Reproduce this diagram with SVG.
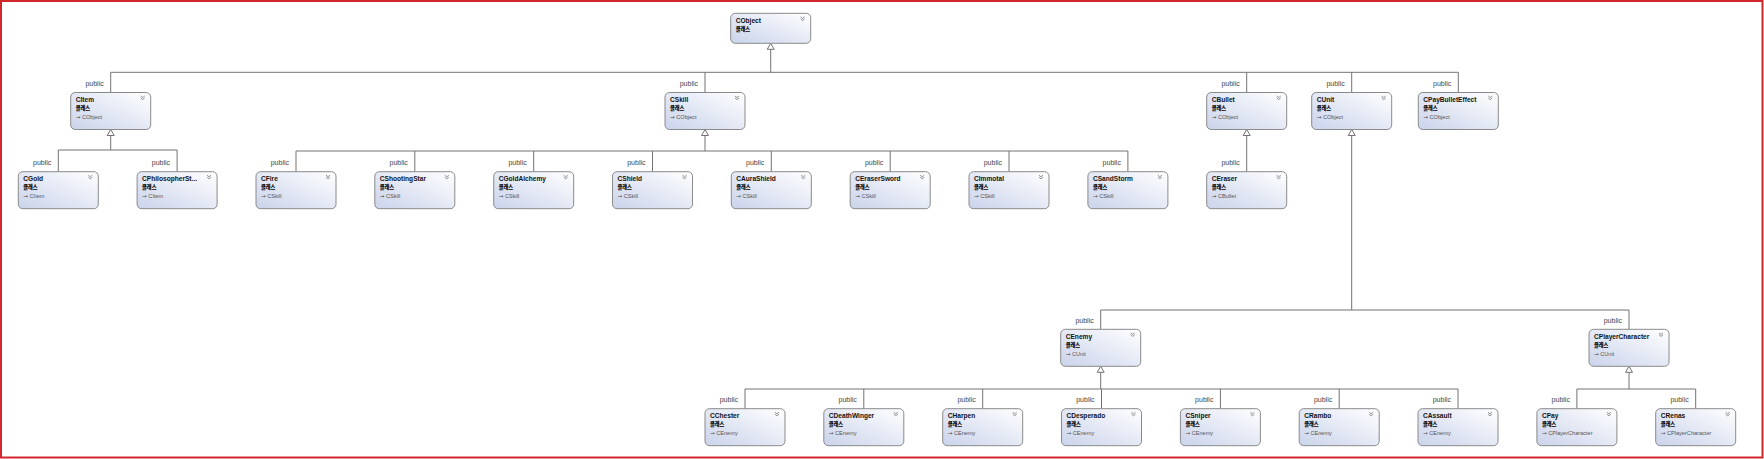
<svg xmlns="http://www.w3.org/2000/svg" xmlns:xlink="http://www.w3.org/1999/xlink" width="1764" height="459" viewBox="0 0 1764 459">
<style>
.bx{fill:url(#g);stroke:#8a8a8a;stroke-width:1}
.t{font-family:"Liberation Sans",Arial,sans-serif;font-size:6.6px;font-weight:bold;fill:#111}
.k{font-family:"Noto Sans CJK KR",sans-serif;font-size:5.2px;font-weight:900;fill:#000}
.b{font-family:"Liberation Sans",Arial,sans-serif;font-size:5.6px;fill:#555}
.a{font-family:"DejaVu Sans",sans-serif;font-size:5.6px}
.l{font-family:"Liberation Sans",Arial,sans-serif;font-size:7px;fill:#444;text-anchor:end}
.c{stroke:#727272;stroke-width:1;fill:none}
.tri{fill:#fff;stroke:#727272;stroke-width:1}
.ch{stroke:#777;stroke-width:0.8;fill:none}
</style>
<defs>
<linearGradient id="g" x1="1" y1="0" x2="0" y2="1">
<stop offset="0" stop-color="#ffffff"/>
<stop offset="1" stop-color="#cad3eb"/>
</linearGradient>
<path id="chev" class="ch" d="M-2,0 L0,1.6 L2,0 M-2,2 L0,3.6 L2,2"/>
<rect id="box" class="bx" x="0" y="0" width="80" height="37" rx="4.5"/>
<polygon id="tri" class="tri" points="0,0 -3.5,6 3.5,6"/>
</defs>
<rect x="0" y="0" width="1764" height="459" fill="#fff"/>
<rect x="1" y="1" width="1761.5" height="456.5" fill="none" stroke="#d0262d" stroke-width="2"/>

<g id="connectors">
<line class="c" x1="770.7" y1="49.3" x2="770.7" y2="72.3"/>
<line class="c" x1="110.7" y1="72.3" x2="1458.3" y2="72.3"/>
<line class="c" x1="110.7" y1="72.3" x2="110.7" y2="92.5"/>
<line class="c" x1="705" y1="72.3" x2="705" y2="92.5"/>
<line class="c" x1="1246.7" y1="72.3" x2="1246.7" y2="92.5"/>
<line class="c" x1="1351.7" y1="72.3" x2="1351.7" y2="92.5"/>
<line class="c" x1="1458.3" y1="72.3" x2="1458.3" y2="92.5"/>
<line class="c" x1="110.7" y1="135.5" x2="110.7" y2="150"/>
<line class="c" x1="58.3" y1="150" x2="177.1" y2="150"/>
<line class="c" x1="58.3" y1="150" x2="58.3" y2="171.7"/>
<line class="c" x1="177.1" y1="150" x2="177.1" y2="171.7"/>
<line class="c" x1="705" y1="135.5" x2="705" y2="151"/>
<line class="c" x1="296" y1="151" x2="1127.9" y2="151"/>
<line class="c" x1="296" y1="151" x2="296" y2="171.7"/>
<line class="c" x1="414.8" y1="151" x2="414.8" y2="171.7"/>
<line class="c" x1="533.7" y1="151" x2="533.7" y2="171.7"/>
<line class="c" x1="652.5" y1="151" x2="652.5" y2="171.7"/>
<line class="c" x1="771.3" y1="151" x2="771.3" y2="171.7"/>
<line class="c" x1="890.2" y1="151" x2="890.2" y2="171.7"/>
<line class="c" x1="1009" y1="151" x2="1009" y2="171.7"/>
<line class="c" x1="1127.9" y1="151" x2="1127.9" y2="171.7"/>
<line class="c" x1="1246.7" y1="135.5" x2="1246.7" y2="171.7"/>
<line class="c" x1="1351.7" y1="135.5" x2="1351.7" y2="310"/>
<line class="c" x1="1100.7" y1="310" x2="1629" y2="310"/>
<line class="c" x1="1100.7" y1="310" x2="1100.7" y2="329.3"/>
<line class="c" x1="1629" y1="310" x2="1629" y2="329.3"/>
<line class="c" x1="1100.7" y1="372.3" x2="1100.7" y2="389"/>
<line class="c" x1="745" y1="389" x2="1458" y2="389"/>
<line class="c" x1="745" y1="389" x2="745" y2="408.7"/>
<line class="c" x1="863.8" y1="389" x2="863.8" y2="408.7"/>
<line class="c" x1="982.7" y1="389" x2="982.7" y2="408.7"/>
<line class="c" x1="1101.5" y1="389" x2="1101.5" y2="408.7"/>
<line class="c" x1="1220.4" y1="389" x2="1220.4" y2="408.7"/>
<line class="c" x1="1339.2" y1="389" x2="1339.2" y2="408.7"/>
<line class="c" x1="1458" y1="389" x2="1458" y2="408.7"/>
<line class="c" x1="1629" y1="372.3" x2="1629" y2="389"/>
<line class="c" x1="1576.9" y1="389" x2="1695.7" y2="389"/>
<line class="c" x1="1576.9" y1="389" x2="1576.9" y2="408.7"/>
<line class="c" x1="1695.7" y1="389" x2="1695.7" y2="408.7"/>
<use href="#tri" x="770.7" y="43.3"/>
<use href="#tri" x="110.7" y="129.5"/>
<use href="#tri" x="705" y="129.5"/>
<use href="#tri" x="1246.7" y="129.5"/>
<use href="#tri" x="1351.7" y="129.5"/>
<use href="#tri" x="1100.7" y="366.3"/>
<use href="#tri" x="1629" y="366.3"/>
<text class="l" x="103.7" y="86">public</text>
<text class="l" x="698" y="86">public</text>
<text class="l" x="1239.7" y="86">public</text>
<text class="l" x="1344.7" y="86">public</text>
<text class="l" x="1451.3" y="86">public</text>
<text class="l" x="51.3" y="165.2">public</text>
<text class="l" x="170.1" y="165.2">public</text>
<text class="l" x="289" y="165.2">public</text>
<text class="l" x="407.8" y="165.2">public</text>
<text class="l" x="526.7" y="165.2">public</text>
<text class="l" x="645.5" y="165.2">public</text>
<text class="l" x="764.3" y="165.2">public</text>
<text class="l" x="883.2" y="165.2">public</text>
<text class="l" x="1002" y="165.2">public</text>
<text class="l" x="1120.9" y="165.2">public</text>
<text class="l" x="1239.7" y="165.2">public</text>
<text class="l" x="1093.7" y="322.8">public</text>
<text class="l" x="1622" y="322.8">public</text>
<text class="l" x="738" y="402.2">public</text>
<text class="l" x="856.8" y="402.2">public</text>
<text class="l" x="975.7" y="402.2">public</text>
<text class="l" x="1094.5" y="402.2">public</text>
<text class="l" x="1213.4" y="402.2">public</text>
<text class="l" x="1332.2" y="402.2">public</text>
<text class="l" x="1451" y="402.2">public</text>
<text class="l" x="1569.9" y="402.2">public</text>
<text class="l" x="1688.7" y="402.2">public</text>
</g>

<g id="n-CObject" transform="translate(730.7,13.3)"><rect class="bx" width="80" height="30" rx="4.5"/><text class="t" x="5" y="9.5">CObject</text><text class="k" x="5" y="17.8">클래스</text><use href="#chev" x="72" y="3.5"/></g>

<g id="n-CItem" transform="translate(70.7,92.5)"><use href="#box"/><text class="t" x="5" y="9.5">CItem</text><text class="k" x="5" y="17.8">클래스</text><text class="b" x="5" y="26.5"><tspan class="a">→</tspan> CObject</text><use href="#chev" x="72" y="3.5"/></g>
<g id="n-CSkill" transform="translate(665,92.5)"><use href="#box"/><text class="t" x="5" y="9.5">CSkill</text><text class="k" x="5" y="17.8">클래스</text><text class="b" x="5" y="26.5"><tspan class="a">→</tspan> CObject</text><use href="#chev" x="72" y="3.5"/></g>
<g id="n-CBullet" transform="translate(1206.7,92.5)"><use href="#box"/><text class="t" x="5" y="9.5">CBullet</text><text class="k" x="5" y="17.8">클래스</text><text class="b" x="5" y="26.5"><tspan class="a">→</tspan> CObject</text><use href="#chev" x="72" y="3.5"/></g>
<g id="n-CUnit" transform="translate(1311.7,92.5)"><use href="#box"/><text class="t" x="5" y="9.5">CUnit</text><text class="k" x="5" y="17.8">클래스</text><text class="b" x="5" y="26.5"><tspan class="a">→</tspan> CObject</text><use href="#chev" x="72" y="3.5"/></g>
<g id="n-CPayBulletEffect" transform="translate(1418.3,92.5)"><use href="#box"/><text class="t" x="5" y="9.5">CPayBulletEffect</text><text class="k" x="5" y="17.8">클래스</text><text class="b" x="5" y="26.5"><tspan class="a">→</tspan> CObject</text><use href="#chev" x="72" y="3.5"/></g>

<g id="n-CGold" transform="translate(18.3,171.7)"><use href="#box"/><text class="t" x="5" y="9.5">CGold</text><text class="k" x="5" y="17.8">클래스</text><text class="b" x="5" y="26.5"><tspan class="a">→</tspan> CItem</text><use href="#chev" x="72" y="3.5"/></g>
<g id="n-CPhilosopherStone" transform="translate(137.1,171.7)"><use href="#box"/><text class="t" x="5" y="9.5">CPhilosopherSt...</text><text class="k" x="5" y="17.8">클래스</text><text class="b" x="5" y="26.5"><tspan class="a">→</tspan> CItem</text><use href="#chev" x="72" y="3.5"/></g>
<g id="n-CFire" transform="translate(256,171.7)"><use href="#box"/><text class="t" x="5" y="9.5">CFire</text><text class="k" x="5" y="17.8">클래스</text><text class="b" x="5" y="26.5"><tspan class="a">→</tspan> CSkill</text><use href="#chev" x="72" y="3.5"/></g>
<g id="n-CShootingStar" transform="translate(374.8,171.7)"><use href="#box"/><text class="t" x="5" y="9.5">CShootingStar</text><text class="k" x="5" y="17.8">클래스</text><text class="b" x="5" y="26.5"><tspan class="a">→</tspan> CSkill</text><use href="#chev" x="72" y="3.5"/></g>
<g id="n-CGoldAlchemy" transform="translate(493.7,171.7)"><use href="#box"/><text class="t" x="5" y="9.5">CGoldAlchemy</text><text class="k" x="5" y="17.8">클래스</text><text class="b" x="5" y="26.5"><tspan class="a">→</tspan> CSkill</text><use href="#chev" x="72" y="3.5"/></g>
<g id="n-CShield" transform="translate(612.5,171.7)"><use href="#box"/><text class="t" x="5" y="9.5">CShield</text><text class="k" x="5" y="17.8">클래스</text><text class="b" x="5" y="26.5"><tspan class="a">→</tspan> CSkill</text><use href="#chev" x="72" y="3.5"/></g>
<g id="n-CAuraShield" transform="translate(731.3,171.7)"><use href="#box"/><text class="t" x="5" y="9.5">CAuraShield</text><text class="k" x="5" y="17.8">클래스</text><text class="b" x="5" y="26.5"><tspan class="a">→</tspan> CSkill</text><use href="#chev" x="72" y="3.5"/></g>
<g id="n-CEraserSword" transform="translate(850.2,171.7)"><use href="#box"/><text class="t" x="5" y="9.5">CEraserSword</text><text class="k" x="5" y="17.8">클래스</text><text class="b" x="5" y="26.5"><tspan class="a">→</tspan> CSkill</text><use href="#chev" x="72" y="3.5"/></g>
<g id="n-CImmotal" transform="translate(969,171.7)"><use href="#box"/><text class="t" x="5" y="9.5">CImmotal</text><text class="k" x="5" y="17.8">클래스</text><text class="b" x="5" y="26.5"><tspan class="a">→</tspan> CSkill</text><use href="#chev" x="72" y="3.5"/></g>
<g id="n-CSandStorm" transform="translate(1087.9,171.7)"><use href="#box"/><text class="t" x="5" y="9.5">CSandStorm</text><text class="k" x="5" y="17.8">클래스</text><text class="b" x="5" y="26.5"><tspan class="a">→</tspan> CSkill</text><use href="#chev" x="72" y="3.5"/></g>
<g id="n-CEraser" transform="translate(1206.7,171.7)"><use href="#box"/><text class="t" x="5" y="9.5">CEraser</text><text class="k" x="5" y="17.8">클래스</text><text class="b" x="5" y="26.5"><tspan class="a">→</tspan> CBullet</text><use href="#chev" x="72" y="3.5"/></g>

<g id="n-CEnemy" transform="translate(1060.7,329.3)"><use href="#box"/><text class="t" x="5" y="9.5">CEnemy</text><text class="k" x="5" y="17.8">클래스</text><text class="b" x="5" y="26.5"><tspan class="a">→</tspan> CUnit</text><use href="#chev" x="72" y="3.5"/></g>
<g id="n-CPlayerCharacter" transform="translate(1589,329.3)"><use href="#box"/><text class="t" x="5" y="9.5">CPlayerCharacter</text><text class="k" x="5" y="17.8">클래스</text><text class="b" x="5" y="26.5"><tspan class="a">→</tspan> CUnit</text><use href="#chev" x="72" y="3.5"/></g>

<g id="n-CChester" transform="translate(705,408.7)"><use href="#box"/><text class="t" x="5" y="9.5">CChester</text><text class="k" x="5" y="17.8">클래스</text><text class="b" x="5" y="26.5"><tspan class="a">→</tspan> CEnemy</text><use href="#chev" x="72" y="3.5"/></g>
<g id="n-CDeathWinger" transform="translate(823.8,408.7)"><use href="#box"/><text class="t" x="5" y="9.5">CDeathWinger</text><text class="k" x="5" y="17.8">클래스</text><text class="b" x="5" y="26.5"><tspan class="a">→</tspan> CEnemy</text><use href="#chev" x="72" y="3.5"/></g>
<g id="n-CHarpen" transform="translate(942.7,408.7)"><use href="#box"/><text class="t" x="5" y="9.5">CHarpen</text><text class="k" x="5" y="17.8">클래스</text><text class="b" x="5" y="26.5"><tspan class="a">→</tspan> CEnemy</text><use href="#chev" x="72" y="3.5"/></g>
<g id="n-CDesperado" transform="translate(1061.5,408.7)"><use href="#box"/><text class="t" x="5" y="9.5">CDesperado</text><text class="k" x="5" y="17.8">클래스</text><text class="b" x="5" y="26.5"><tspan class="a">→</tspan> CEnemy</text><use href="#chev" x="72" y="3.5"/></g>
<g id="n-CSniper" transform="translate(1180.4,408.7)"><use href="#box"/><text class="t" x="5" y="9.5">CSniper</text><text class="k" x="5" y="17.8">클래스</text><text class="b" x="5" y="26.5"><tspan class="a">→</tspan> CEnemy</text><use href="#chev" x="72" y="3.5"/></g>
<g id="n-CRambo" transform="translate(1299.2,408.7)"><use href="#box"/><text class="t" x="5" y="9.5">CRambo</text><text class="k" x="5" y="17.8">클래스</text><text class="b" x="5" y="26.5"><tspan class="a">→</tspan> CEnemy</text><use href="#chev" x="72" y="3.5"/></g>
<g id="n-CAssault" transform="translate(1418,408.7)"><use href="#box"/><text class="t" x="5" y="9.5">CAssault</text><text class="k" x="5" y="17.8">클래스</text><text class="b" x="5" y="26.5"><tspan class="a">→</tspan> CEnemy</text><use href="#chev" x="72" y="3.5"/></g>
<g id="n-CPay" transform="translate(1536.9,408.7)"><use href="#box"/><text class="t" x="5" y="9.5">CPay</text><text class="k" x="5" y="17.8">클래스</text><text class="b" x="5" y="26.5"><tspan class="a">→</tspan> CPlayerCharacter</text><use href="#chev" x="72" y="3.5"/></g>
<g id="n-CRenas" transform="translate(1655.7,408.7)"><use href="#box"/><text class="t" x="5" y="9.5">CRenas</text><text class="k" x="5" y="17.8">클래스</text><text class="b" x="5" y="26.5"><tspan class="a">→</tspan> CPlayerCharacter</text><use href="#chev" x="72" y="3.5"/></g>
</svg>
